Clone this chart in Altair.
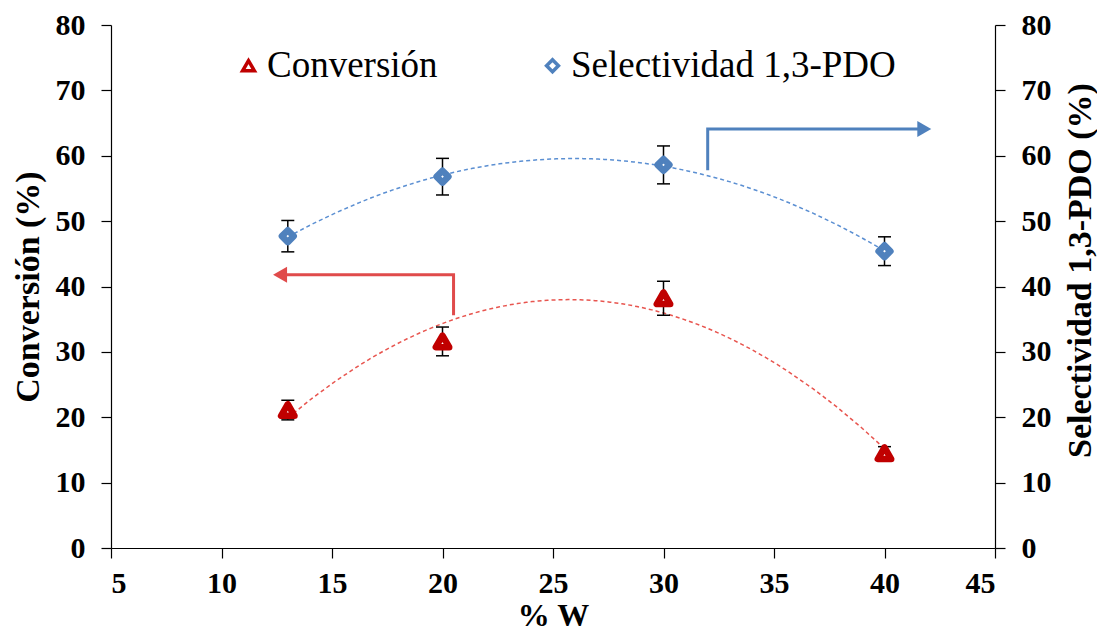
import altair as alt
import pandas as pd

# ---- data ----
w_pct = [13, 20, 30, 40]
conversion = [21.1, 31.6, 38.2, 14.5]
conversion_err = [1.5, 2.2, 2.6, 1.0]
selectivity = [47.7, 56.8, 58.6, 45.4]
selectivity_err = [2.4, 2.8, 2.9, 2.2]
series_names = ["Conversión", "Selectividad 1,3-PDO"]
x_ticks = [5, 10, 15, 20, 25, 30, 35, 40, 45]
y_ticks = [0, 10, 20, 30, 40, 50, 60, 70, 80]

# annotation arrows (data coordinates: start, corner, head)
red_arrow_x = [20.5, 20.5, 12.65]
red_arrow_y = [35.6, 41.8, 41.8]
blue_arrow_x = [32.0, 32.0, 41.8]
blue_arrow_y = [57.8, 64.1, 64.1]

FONT = "Liberation Serif"
RED = "#c00000"
BLUE = "#4f81bd"
RED_LINE = "#e8554f"
BLUE_LINE = "#5b8fd2"
RED_ARROW = "#e04b4b"
BLUE_ARROW = "#4f81bd"

X = lambda f: alt.X(f, type="quantitative",
                    scale=alt.Scale(domain=[5, 45], nice=False, zero=False),
                    axis=alt.Axis(values=x_ticks, title="% W", labelPadding=10,
                                  titleY=52, titleBaseline="top", titleFontSize=32),
                    title="% W")

LEG = alt.Legend(title=None, orient="none", direction="horizontal",
                 legendX=119, legendY=22, columns=2)
color_enc = alt.Color("series:N", scale=alt.Scale(domain=series_names, range=[RED, BLUE]), legend=LEG)
shape_enc = alt.Shape("series:N", scale=alt.Scale(domain=series_names, range=["triangle-up", "diamond"]),
                      legend=LEG)


def panel(name, xs, ys, errs, size, line_color, ax, ay, head_shape, arrow_color, y_title, orient,
          axis_extra):
    df = pd.DataFrame({"series": name, "x": xs, "y": ys,
                       "lo": [v - e for v, e in zip(ys, errs)],
                       "hi": [v + e for v, e in zip(ys, errs)]})
    yscale = alt.Scale(domain=[0, 80], nice=False)
    yaxis = alt.Axis(values=y_ticks, orient=orient, title=y_title, **axis_extra)
    Y = lambda f: alt.Y(f, type="quantitative", scale=yscale, axis=yaxis, title=y_title)
    base = alt.Chart(df)
    trend = base.transform_regression("x", "y", method="poly", order=2, extent=[13, 40]).mark_line(
        strokeDash=[4, 3], strokeWidth=1.5, color=line_color).encode(x=X("x"), y=Y("y"))
    rules = base.mark_rule(color="black", strokeWidth=1.5).encode(x=X("x"), y=Y("lo"), y2="hi")
    cap_lo = base.mark_tick(orient="horizontal", color="black", size=13, thickness=1.5, opacity=1).encode(
        x=X("x"), y=Y("lo"))
    cap_hi = base.mark_tick(orient="horizontal", color="black", size=13, thickness=1.5, opacity=1).encode(
        x=X("x"), y=Y("hi"))
    pts = base.mark_point(filled=False, fill="white", fillOpacity=1, strokeWidth=6.5, size=size,
                          strokeJoin="round", opacity=1).encode(
        x=X("x"), y=Y("y"), color=color_enc, shape=shape_enc)
    adf = pd.DataFrame({"ax": ax, "ay": ay, "k": list(range(len(ax)))})
    aline = alt.Chart(adf).mark_line(color=arrow_color, strokeWidth=3).encode(
        x=X("ax"), y=Y("ay"), order="k:Q")
    ahead = alt.Chart(adf.tail(1)).mark_point(shape=head_shape, filled=True, size=260,
                                              color=arrow_color, opacity=1).encode(
        x=X("ax"), y=Y("ay"))
    return alt.layer(trend, rules, cap_lo, cap_hi, pts, aline, ahead)


left = panel(series_names[0], w_pct, conversion, conversion_err, 180, RED_LINE,
             red_arrow_x, red_arrow_y, "triangle-left", RED_ARROW, "Conversión (%)", "left",
             {"titlePadding": 10})
right = panel(series_names[1], w_pct, selectivity, selectivity_err, 140, BLUE_LINE,
              blue_arrow_x, blue_arrow_y, "triangle-right", BLUE_ARROW, "Selectividad 1,3-PDO (%)", "right",
              {"titleAngle": 270, "titleX": 85, "titleY": 245, "titleAlign": "center",
               "titleBaseline": "middle"})

chart = alt.layer(left, right).resolve_scale(y="independent").properties(
    width=884, height=523, autosize="none",
    padding={"left": 103, "top": 17, "right": 102, "bottom": 81},
    background="white",
).configure_view(stroke=None).configure_axis(
    grid=False, domainColor="black", tickColor="black", tickSize=10, domainWidth=1.2, tickWidth=1.2,
    labelFont=FONT, labelFontSize=30, labelFontWeight="bold", labelColor="black", labelPadding=16,
    titleFont=FONT, titleFontSize=34, titleFontWeight="bold", titleColor="black",
).configure_legend(
    labelFont=FONT, labelFontSize=37, labelColor="black", labelLimit=0, labelOffset=0,
    symbolSize=140, symbolStrokeWidth=3.5, columnPadding=96, padding=0,
)

chart.save("out.html", embed_options={"renderer": "svg", "actions": False})
